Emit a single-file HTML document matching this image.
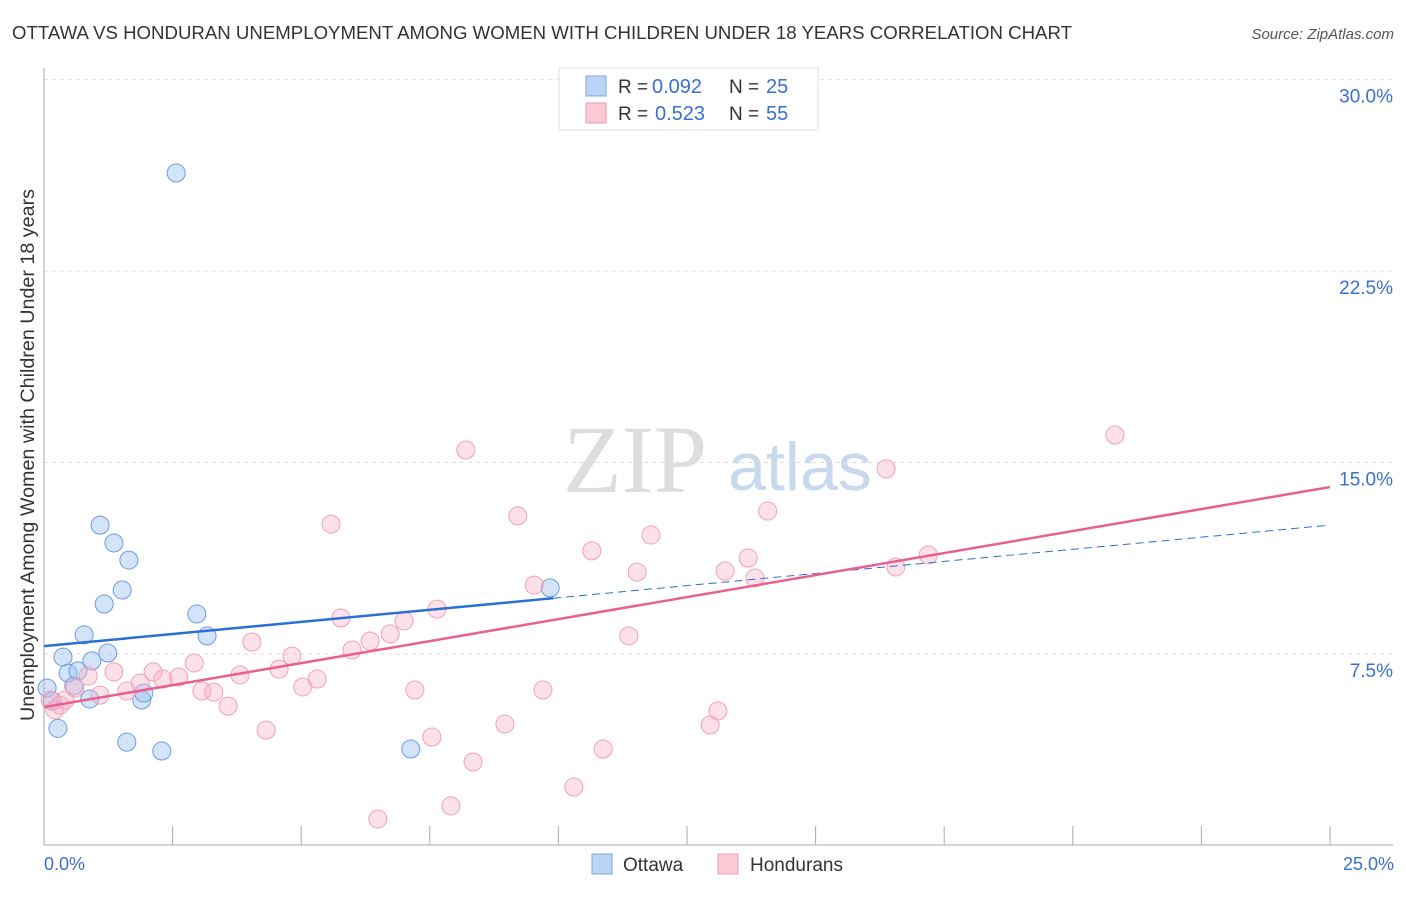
<!DOCTYPE html>
<html><head><meta charset="utf-8"><style>
body{margin:0;background:#fff;font-family:"Liberation Sans",sans-serif}
</style></head><body>
<svg id="c" width="1406" height="892" xmlns="http://www.w3.org/2000/svg">
<text x="12" y="39" font-size="18" fill="#333" textLength="1060" lengthAdjust="spacingAndGlyphs">OTTAWA VS HONDURAN UNEMPLOYMENT AMONG WOMEN WITH CHILDREN UNDER 18 YEARS CORRELATION CHART</text>
<text x="1394" y="39" font-size="15" fill="#555" font-style="italic" text-anchor="end">Source: ZipAtlas.com</text>
<text x="635" y="492" font-size="96" fill="#ddd" font-family="Liberation Serif,serif" text-anchor="middle">ZIP</text>
<text x="800" y="490" font-size="68" fill="#c8d8ee" text-anchor="middle">atlas</text>
<text transform="translate(34,455) rotate(-90)" font-size="19" fill="#333" text-anchor="middle" textLength="532" lengthAdjust="spacingAndGlyphs">Unemployment Among Women with Children Under 18 years</text>
<g id="grid"></g><g id="pts"></g><g id="lines"></g>
<g>
<rect x="559" y="68" width="259" height="62" fill="#fff" stroke="#ddd"/>
<rect x="586" y="76" width="20" height="20" fill="#bcd4f5" stroke="#7fa8e0"/>
<rect x="586" y="103" width="20" height="20" fill="#fbc8d6" stroke="#f09ab5"/>
<text x="618" y="93" font-size="19" fill="#333">R =</text>
<text x="652" y="93" font-size="20" fill="#3a6fd0">0.092</text>
<text x="729" y="93" font-size="19" fill="#333">N =</text>
<text x="766" y="93" font-size="20" fill="#3a6fd0">25</text>
<text x="618" y="120" font-size="19" fill="#333">R =</text>
<text x="655" y="120" font-size="20" fill="#3a6fd0">0.523</text>
<text x="729" y="120" font-size="19" fill="#333">N =</text>
<text x="766" y="120" font-size="20" fill="#3a6fd0">55</text>
</g>
<g>
<rect x="592" y="854" width="20" height="20" fill="#bcd4f5" stroke="#7fa8e0"/>
<text x="623" y="871" font-size="19" fill="#333">Ottawa</text>
<rect x="718" y="854" width="20" height="20" fill="#fbc8d6" stroke="#f09ab5"/>
<text x="750" y="871" font-size="19" fill="#333">Hondurans</text>
</g>
<text x="44" y="870" font-size="18" fill="#3a6fd0">0.0%</text>
<text x="1394" y="870" font-size="18" fill="#3a6fd0" text-anchor="end">25.0%</text>
</svg>
<script>
const yTicks=[7.5,15,22.5,30];
const ottX=[0.06,0.16,0.27,0.37,0.47,0.58,0.66,0.78,0.89,0.93,1.09,1.17,1.24,1.36,1.52,1.61,1.65,1.9,1.94,2.29,2.57,2.97,3.17,7.13,9.84];
const ottY=[6.17,5.66,4.59,7.38,6.75,6.25,6.84,8.25,5.74,7.23,12.55,9.46,7.54,11.85,10.01,4.05,11.18,5.70,5.97,3.70,26.34,9.07,8.21,3.78,10.09];
const honX=[0.12,0.21,0.31,0.41,0.6,0.86,1.09,1.36,1.61,1.87,2.12,2.31,2.62,2.92,3.07,3.30,3.58,3.81,4.04,4.32,4.57,4.82,5.03,5.31,5.58,5.77,5.99,6.34,6.49,6.73,7.00,7.21,7.54,7.64,7.91,8.20,8.34,8.96,9.21,9.53,9.70,10.30,10.65,10.87,11.37,11.53,11.80,12.95,13.10,13.24,13.69,13.82,14.07,16.37,16.56,17.19,20.82];
const honY=[5.70,5.31,5.50,5.70,6.17,6.64,5.89,6.80,6.05,6.36,6.80,6.52,6.60,7.15,6.05,6.01,5.46,6.68,7.97,4.52,6.91,7.42,6.21,6.52,12.59,8.91,7.66,8.01,1.04,8.29,8.80,6.09,4.25,9.26,1.55,15.49,3.27,4.76,12.91,10.20,6.09,2.29,11.54,3.78,8.21,10.71,12.16,4.72,5.27,10.75,11.26,10.48,13.10,14.75,10.91,11.38,16.08];
const ottTrend=[7.81,12.55];
const honTrend=[5.42,14.04];
const ottSolidEnd=9.9;
const NS='http://www.w3.org/2000/svg';
const X=v=>44+v*51.44, Y=v=>845.5-v*25.53;
function mk(t,a,p){const e=document.createElementNS(NS,t);for(const k in a)e.setAttribute(k,a[k]);p.appendChild(e);return e;}
const g=document.getElementById('grid');
yTicks.forEach(t=>{
 const l=mk('line',{x1:44,x2:1393,y1:Y(t),y2:Y(t),stroke:'#ddd','stroke-dasharray':'4,4'},g);
 
 
 const tx=mk('text',{x:1393,y:Y(t)+23,'font-size':19,fill:'#3a6fd0','text-anchor':'end'},g);
 tx.textContent=t.toFixed(1)+'%';
 
 
});
mk('line',{x1:44,x2:44,y1:68,y2:845,stroke:'#aaa'},g);
mk('line',{x1:44,x2:1393,y1:845,y2:845,stroke:'#aaa'},g);
for(let i=1;i<=10;i++){mk('line',{x1:X(i*2.5),x2:X(i*2.5),y1:826,y2:845,stroke:'#aaa'},g);}
const p=document.getElementById('pts');
ottX.forEach((x,i)=>{const c=mk('circle',{cx:X(x),cy:Y(ottY[i]),r:9,fill:'rgba(160,195,240,0.45)',stroke:'#6d9be0','stroke-width':1},p);
 
 });
honX.forEach((x,i)=>{const c=mk('circle',{cx:X(x),cy:Y(honY[i]),r:9,fill:'rgba(248,180,200,0.4)',stroke:'#f0a0ba','stroke-width':1},p);
 
 });
const L=document.getElementById('lines');
const oy=x=>ottTrend[0]+(ottTrend[1]-ottTrend[0])*x/25;
const a=mk('line',{x1:X(0),y1:Y(oy(0)),x2:X(ottSolidEnd),y2:Y(oy(ottSolidEnd)),stroke:'#2a6fd6','stroke-width':2.5},L);


const b=mk('line',{x1:X(ottSolidEnd),y1:Y(oy(ottSolidEnd)),x2:X(25),y2:Y(oy(25)),stroke:'#2a6fd6','stroke-width':1,'stroke-dasharray':'8,5'},L);


const h=mk('line',{x1:X(0),y1:Y(honTrend[0]),x2:X(25),y2:Y(honTrend[1]),stroke:'#e8608f','stroke-width':2.5},L);


</script>
</body></html>
